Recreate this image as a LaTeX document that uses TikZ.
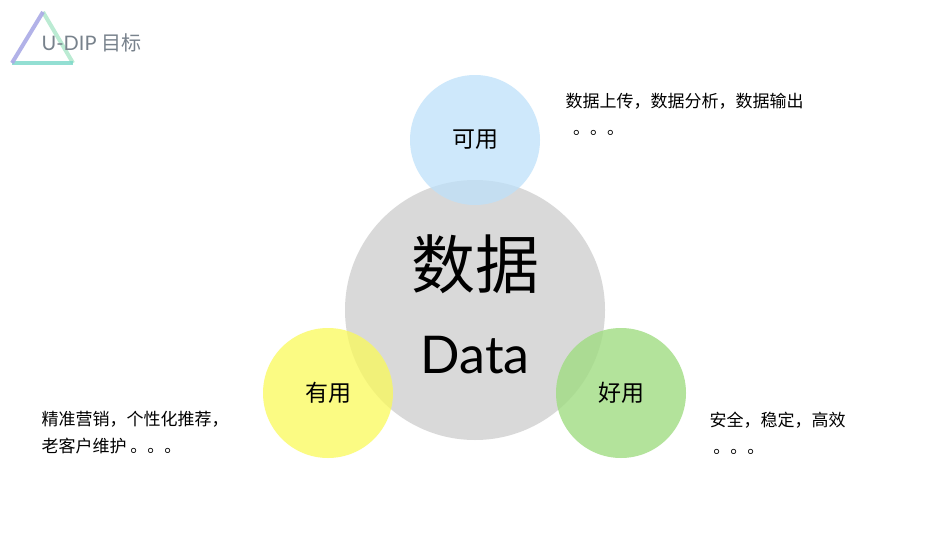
\documentclass[tikz,border=0pt]{standalone}
\usepackage{fontspec}
\setmainfont{Lato}
\newfontfamily\cjk{Noto Sans CJK SC}
\definecolor{cblue}{RGB}{190,225,250}
\definecolor{cyel}{RGB}{250,250,90}
\definecolor{cgrn}{RGB}{160,220,130}
\definecolor{cgry}{RGB}{217,217,217}
\definecolor{tl}{RGB}{170,170,230}
\definecolor{tr}{RGB}{170,230,200}
\definecolor{tb}{RGB}{120,215,200}
\definecolor{ttxt}{RGB}{120,130,140}
\begin{document}
\begin{tikzpicture}[x=1pt,y=-1pt,
  circ/.style={circle,minimum size=#1,inner sep=0pt},
  lbl/.style={font=\cjk\fontsize{23}{25}\selectfont},
  note/.style={font=\cjk\fontsize{17}{27}\selectfont,align=left,anchor=north west}]
\useasboundingbox (0,0) rectangle (950,535);
\fill[white] (0,0) rectangle (950,535);
\coordinate (apex) at (43,12);
\coordinate (bl) at (12,63);
\coordinate (br) at (73,63);
\draw[line width=4pt,color=tr,opacity=0.8] (apex) -- (br);
\draw[line width=4pt,color=tb,opacity=0.8] (bl) -- (br);
\draw[line width=4pt,color=tl,opacity=0.9] (apex) -- (bl);
\node[anchor=west,text=ttxt,font=\fontsize{20}{22}\selectfont] (title) at (38,43) {U-DIP \cjk 目标};
\node[circ=260pt,fill=cgry] (data) at (475,310) {};
\node[circ=130pt,fill=cblue,opacity=0.75] (ky) at (475,140) {};
\node[circ=130pt,fill=cyel,opacity=0.75] (yy) at (328,393) {};
\node[circ=130pt,fill=cgrn,opacity=0.8] (hy) at (621,393) {};
\node[font=\cjk\fontsize{64}{66}\selectfont] (sj) at (475,264) {数据};
\node[font=\fontsize{52}{54}\selectfont] (dt) at (475,355) {Data};
\node[lbl] (kyl) at (ky) {可用};
\node[lbl] (yyl) at (yy) {有用};
\node[lbl] (hyl) at (hy) {好用};
\node[note] (n1) at (562,90) {数据上传，数据分析，数据输出\\\ \ 。。。};
\node[note] (n2) at (38,408) {精准营销，个性化推荐，\\老客户维护 。。。};
\node[note] (n3) at (706,408) {安全，稳定，高效\\\ 。。。};
\end{tikzpicture}
\end{document}
